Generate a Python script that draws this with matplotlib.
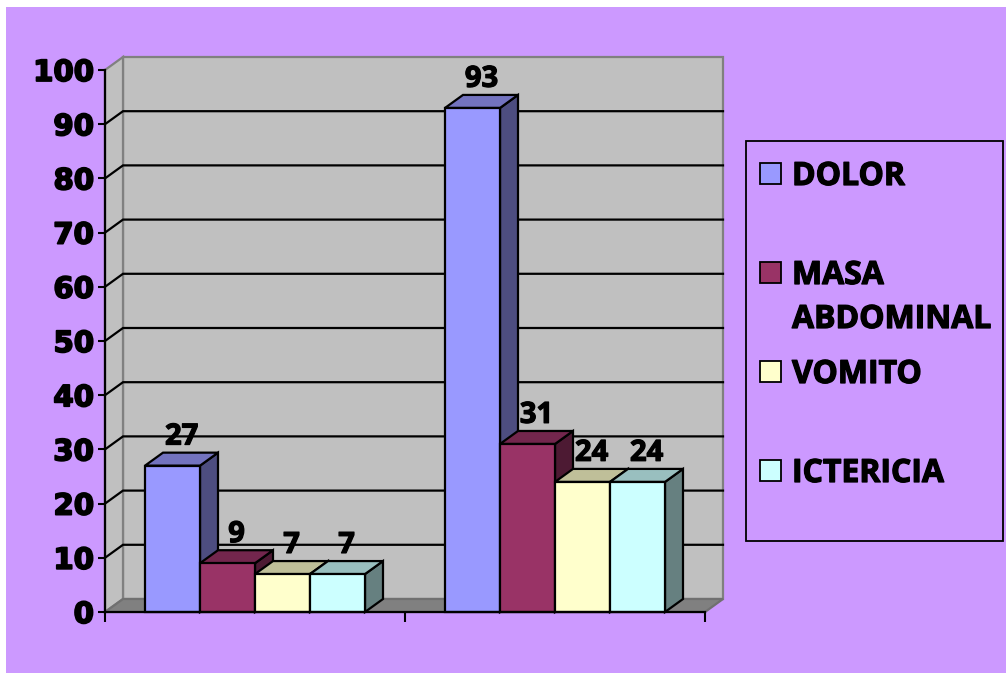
import matplotlib
matplotlib.use("Agg")
import matplotlib.pyplot as plt
import matplotlib.patheffects as pe
from matplotlib.patches import Rectangle, Polygon

# Data
groups = ["Grupo 1", "Grupo 2"]
series = ["DOLOR", "MASA ABDOMINAL", "VOMITO", "ICTERICIA"]
legend_lines = [["DOLOR"], ["MASA", "ABDOMINAL"], ["VOMITO"], ["ICTERICIA"]]
values = {
    "DOLOR": [27, 93],
    "MASA ABDOMINAL": [9, 31],
    "VOMITO": [7, 24],
    "ICTERICIA": [7, 24],
}
y_ticks = list(range(0, 101, 10))

# Colours: front face, side face, top face
front_col = {"DOLOR": "#9999FF", "MASA ABDOMINAL": "#993366",
             "VOMITO": "#FFFFCC", "ICTERICIA": "#CCFFFF"}
side_col = {"DOLOR": "#4D4D80", "MASA ABDOMINAL": "#4D1A33",
            "VOMITO": "#808066", "ICTERICIA": "#668080"}
top_col = {"DOLOR": "#7373BF", "MASA ABDOMINAL": "#73264D",
           "VOMITO": "#BFBF99", "ICTERICIA": "#99BFBF"}

BG = "#CC99FF"
WALL = "#C0C0C0"
FLOOR = "#808080"
LABEL_FONT = "Open Sans"

# heavier glyph strokes
heavy = [pe.withStroke(linewidth=0.9, foreground="black")]
heavier = [pe.withStroke(linewidth=1.3, foreground="black")]

W, H = 1006, 673
fig = plt.figure(figsize=(W / 100, H / 100), dpi=100)
fig.patch.set_facecolor("white")
# purple chart area (thin white margin on top and left)
fig.add_artist(Rectangle((6 / W, 0), 1 - 6 / W, 1 - 7 / H,
                         transform=fig.transFigure, facecolor=BG,
                         edgecolor="none", zorder=0))

# front plane of the plot
ax = fig.add_axes([105 / W, (H - 612) / H, 600 / W, 542 / H])
ax.set_xlim(0, 2)
ax.set_ylim(0, 100)
ax.patch.set_alpha(0)

# depth offset (data units)
DX = 18 / 300
DY = 2.4

lw = 1.6
# back wall
ax.add_patch(Rectangle((DX, DY), 2, 100, facecolor=WALL, edgecolor="#808080",
                       lw=lw, zorder=1, clip_on=False))
# side wall
ax.add_patch(Polygon([(0, 0), (0, 100), (DX, 100 + DY), (DX, DY)], closed=True,
                     facecolor=WALL, edgecolor="#808080", lw=lw, zorder=1,
                     clip_on=False))
# floor
ax.add_patch(Polygon([(0, 0), (2, 0), (2 + DX, DY), (DX, DY)], closed=True,
                     facecolor=FLOOR, edgecolor="#707070", lw=lw, zorder=1,
                     clip_on=False))
# gridlines on side and back walls
for v in y_ticks[1:-1]:
    ax.plot([0, DX, 2 + DX], [v, v + DY, v + DY], color="black", lw=lw,
            zorder=2, clip_on=False, solid_joinstyle="miter")

# bars
bw = 55 / 300
z = 3
for g in range(len(groups)):
    center = g + 0.5
    for i, s in enumerate(series):
        v = values[s][g]
        x = center - 2 * bw + i * bw
        ax.add_patch(Polygon([(x + bw, 0), (x + bw + DX, DY),
                              (x + bw + DX, v + DY), (x + bw, v)], closed=True,
                             facecolor=side_col[s], edgecolor="black", lw=lw,
                             zorder=z, clip_on=False, joinstyle="miter"))
        ax.add_patch(Polygon([(x, v), (x + bw, v), (x + bw + DX, v + DY),
                              (x + DX, v + DY)], closed=True,
                             facecolor=top_col[s], edgecolor="black", lw=lw,
                             zorder=z, clip_on=False, joinstyle="miter"))
        ax.add_patch(Rectangle((x, 0), bw, v, facecolor=front_col[s],
                               edgecolor="black", lw=lw, zorder=z + 1,
                               clip_on=False, joinstyle="miter"))
        ax.text(x + bw / 2 + DX / 2, v + DY + 1.5, str(v), ha="center",
                va="baseline", fontsize=21, fontweight="bold",
                family=LABEL_FONT, zorder=20, path_effects=heavy)
        z += 2

# axes lines and ticks
for side in ("top", "right"):
    ax.spines[side].set_visible(False)
for side in ("left", "bottom"):
    ax.spines[side].set_linewidth(1.6)
    ax.spines[side].set_zorder(30)
ax.set_yticks(y_ticks)
ax.set_yticklabels([str(t) for t in y_ticks])
for lbl in ax.get_yticklabels():
    lbl.set_fontfamily("DejaVu Sans")
    lbl.set_fontweight("bold")
    lbl.set_fontsize(21)
    lbl.set_path_effects(heavier)
ax.tick_params(axis="y", length=5, width=1.5, pad=3)
ax.set_xticks([0, 1, 2])
ax.set_xticklabels([])
ax.tick_params(axis="x", length=7, width=1.5)

# legend
fig.add_artist(Rectangle((746 / W, (H - 541) / H), 257 / W, 400 / H,
                         transform=fig.transFigure, facecolor=BG,
                         edgecolor="black", lw=1.3, zorder=5))
leg_y = [173, 272, 371, 470]
line_step = 44
for s, lines, yy in zip(series, legend_lines, leg_y):
    fig.add_artist(Rectangle((760 / W, (H - yy - 11) / H), 21 / W, 21 / H,
                             transform=fig.transFigure, facecolor=front_col[s],
                             edgecolor="black", lw=1.3, zorder=6))
    for k, line in enumerate(lines):
        base = yy + 12 + k * line_step
        fig.text(792 / W, (H - base) / H, line, ha="left", va="baseline",
                 fontsize=23, fontweight="bold", family=LABEL_FONT, zorder=7,
                 path_effects=heavy)

fig.savefig("out.png", dpi=100, facecolor=fig.get_facecolor())
